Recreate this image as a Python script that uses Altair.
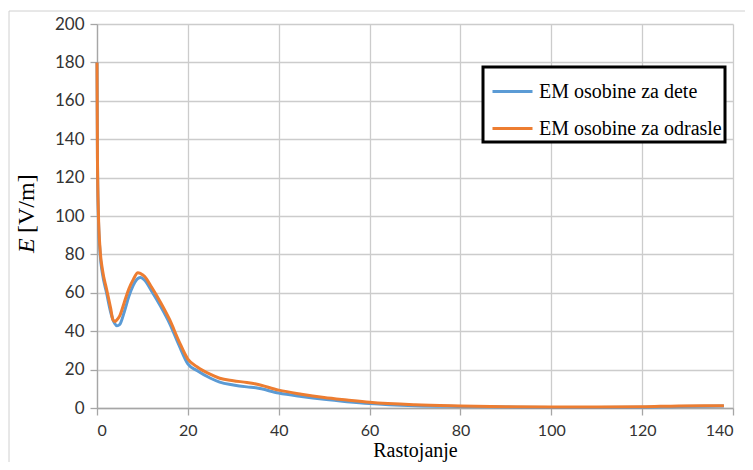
import altair as alt
import pandas as pd

x_vals = [0, 0.1, 0.3, 0.7, 1.2, 2.1, 3, 3.5, 3.9, 4.4, 5, 6, 7, 8, 9, 9.6, 10.5, 12, 14, 16, 18,
          20, 22, 25, 27, 30, 33, 35, 40, 45, 50, 55, 60, 70, 80, 90, 100, 110, 120, 128, 138]
dete = [180, 130, 100, 80, 70, 60, 50, 46, 44, 42.8, 43.5, 50, 58, 64, 67.5, 68, 66.5, 61, 53, 44, 33,
        23, 19.5, 15.5, 13.5, 12, 11, 10.5, 7.8, 6, 4.5, 3.3, 2.3, 1.2, 0.8, 0.5, 0.3, 0.3, 0.4, 0.8, 1.0]
odrasle = [180, 130, 102, 82, 72, 62, 52, 46, 45, 46, 48, 55, 62, 67, 70.5, 70, 68.5, 63, 55, 46, 35,
           25.5, 21.5, 17.5, 15.5, 14.2, 13.3, 12.5, 9.3, 7.2, 5.5, 4.2, 3.0, 1.7, 1.1, 0.7, 0.5, 0.5, 0.6, 1.1, 1.2]
series_names = ["EM osobine za dete", "EM osobine za odrasle"]
series_colors = ["#5b9bd5", "#ed7d31"]
x_title = "Rastojanje"
y_title_var = "E"
y_title_unit = "[V/m]"

rows = []
for name, ys in zip(series_names, [dete, odrasle]):
    for xv, yv in zip(x_vals, ys):
        rows.append({"x": xv, "y": yv, "series": name})
df = pd.DataFrame(rows)

lines = alt.Chart(df).mark_line(strokeWidth=3, interpolate="monotone").encode(
    x=alt.X("x:Q", scale=alt.Scale(domain=[0, 140], nice=False),
            axis=alt.Axis(values=list(range(0, 141, 20)), title=x_title,
                          titleBaseline="alphabetic", titleX=318, titleY=48)),
    y=alt.Y("y:Q", scale=alt.Scale(domain=[0, 200], nice=False),
            axis=alt.Axis(values=list(range(0, 201, 20)), title=None)),
    color=alt.Color("series:N", scale=alt.Scale(domain=series_names, range=series_colors),
                    legend=alt.Legend(title=None, orient="none", legendX=386, legendY=43,
                                      symbolType="stroke", symbolSize=1600, symbolStrokeWidth=3,
                                      labelFont="Liberation Serif", labelFontSize=20,
                                      labelColor="#000000", rowPadding=5, padding=3,
                                      symbolOffset=5, labelOffset=5,
                                      strokeColor="#000000", fillColor="white",
                                      labelLimit=300)),
)

ytitle_e = alt.Chart(pd.DataFrame({"t": [y_title_var]})).mark_text(
    font="Liberation Serif", fontSize=24, fontStyle="italic", angle=270,
    align="left", baseline="middle", color="#000000"
).encode(text="t:N", x=alt.value(-70), y=alt.value(229))

ytitle_u = alt.Chart(pd.DataFrame({"t": [y_title_unit]})).mark_text(
    font="Liberation Serif", fontSize=24, angle=270,
    align="left", baseline="middle", color="#000000"
).encode(text="t:N", x=alt.value(-70), y=alt.value(209))

border = alt.Chart(pd.DataFrame({"a": [0]})).mark_rect(
    fill=None, stroke="#d0d0d0", strokeWidth=1
).encode(x=alt.value(-88), x2=alt.value(680), y=alt.value(-13), y2=alt.value(480))

chart = alt.layer(border, lines, ytitle_e, ytitle_u).properties(
    width=636, height=384,
    autosize=alt.AutoSizeParams(type="none"),
    padding={"left": 89, "top": 16, "right": 12, "bottom": 54},
).configure_view(stroke=None).configure_axis(
    gridColor="#cccccc", gridWidth=1.3, domainColor="#a6a6a6", domainWidth=1.3,
    tickColor="#a6a6a6", tickSize=7, tickWidth=1.3,
    labelFont="Lato", labelFontSize=17, labelColor="#333333",
    titleFont="Liberation Serif", titleFontSize=20, titleColor="#000000", titleFontWeight="normal",
).configure_axisX(labelPadding=7, labelFontSize=16).configure_axisY(labelPadding=6).configure_legend(
    strokeWidth=3
)

chart.save("out.html", embed_options={"renderer": "svg", "actions": False})
